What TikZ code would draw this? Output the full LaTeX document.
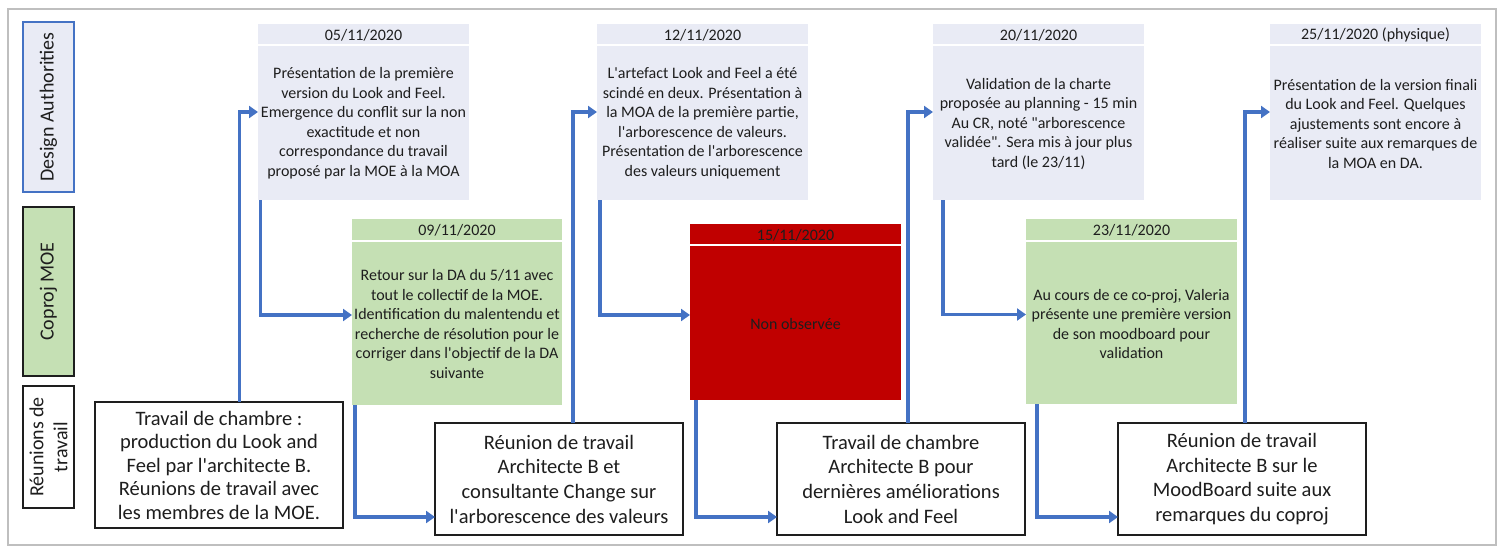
\documentclass[tikz,border=0pt]{standalone}
\usepackage{fontspec}
\setmainfont{Carlito}[Ligatures=TeXOff]
\usetikzlibrary{arrows.meta,calc}
\definecolor{dafill}{HTML}{E9EBF5}
\definecolor{grfill}{HTML}{C5E0B4}
\definecolor{redfill}{HTML}{C00000}
\definecolor{arrblue}{HTML}{4472C4}
\definecolor{txt}{HTML}{1E1E1E}
\definecolor{framec}{HTML}{BFBFBF}
\begin{document}
\begin{tikzpicture}[x=1pt,y=-1pt,
  panel/.style={rectangle,anchor=north west,inner sep=0pt,outer sep=0pt},
  dabox/.style={panel,fill=dafill,minimum width=211pt,minimum height=176pt},
  cobox/.style={panel,fill=grfill,minimum width=210pt,minimum height=186pt},
  rdbox/.style={panel,fill=redfill,minimum width=211pt,minimum height=176pt},
  wkbox/.style={panel,draw=txt,line width=1.4pt,fill=white,minimum width=248pt,minimum height=112pt},
  lblbox/.style={panel,line width=1.4pt,minimum width=51pt},
  sepline/.style={draw=white,line width=2pt},
  smalltxt/.style={font=\fontsize{16}{19.5}\selectfont,align=center,text=txt,inner sep=0pt},
  bigtxt/.style={font=\fontsize{20.5}{24.7}\selectfont,align=center,text=txt,inner sep=0pt},
  lbltxt/.style={font=\fontsize{20}{24}\selectfont,align=center,text=txt,inner sep=0pt,rotate=90},
  arr/.style={draw=arrblue,line width=3.5pt,-{Triangle[length=9pt,width=12pt]}}
]
\useasboundingbox (0,0) rectangle (1500,550);
\draw[framec,line width=2pt] (8,9) rectangle (1496,545);

% row labels
\node[lblbox,draw=arrblue,fill=dafill,minimum height=170pt] (lDA) at (23,22) {};
\node[lbltxt] (tDA) at (lDA.center) {Design Authorities};
\node[lblbox,draw=txt,fill=grfill,minimum height=169pt] (lCO) at (23,207) {};
\node[lbltxt] (tCO) at (lCO.center) {Coproj MOE};
\node[lblbox,draw=txt,fill=white,minimum height=122pt] (lRT) at (23,386) {};
\node[lbltxt] (tRT) at (lRT.center) {Réunions de\\travail};

% Design Authorities boxes
\node[dabox] (da1) at (258,24) {};
\node[dabox] (da2) at (597,24) {};
\node[dabox] (da3) at (933,24) {};
\node[dabox] (da4) at (1270,24) {};
\foreach \b in {da1,da2,da3,da4}{
  \draw[sepline] ($(\b.north west)+(0,21)$) -- ($(\b.north east)+(0,21)$);
}
\node[smalltxt] (h1) at ($(da1.north)+(0,11)$) {05/11/2020};
\node[smalltxt] (h2) at ($(da2.north)+(0,11)$) {12/11/2020};
\node[smalltxt] (h3) at ($(da3.north)+(0,11)$) {20/11/2020};
\node[smalltxt] (h4) at ($(da4.north)+(0,11)$) {25/11/2020 (physique)};
\node[smalltxt] (b1) at ($(da1.north)+(0,99)$) {Présentation de la première\\version du Look and Feel.\\Emergence du conflit sur la non\\exactitude et non\\correspondance du travail\\proposé par la MOE à la MOA};
\node[smalltxt] (b2) at ($(da2.north)+(0,99)$) {L'artefact Look and Feel a été\\scindé en deux. Présentation à\\la MOA de la première partie,\\l'arborescence de valeurs.\\Présentation de l'arborescence\\des valeurs uniquement};
\node[smalltxt] (b3) at ($(da3.north)+(0,100)$) {Validation de la charte\\proposée au planning - 15 min\\Au CR, noté "arborescence\\validée". Sera mis à jour plus\\tard (le 23/11)};
\node[smalltxt] (b4) at ($(da4.north)+(0,100)$) {Présentation de la version finali\\du Look and Feel. Quelques\\ajustements sont encore à\\réaliser suite aux remarques de\\la MOA en DA.};

% Coproj boxes
\node[cobox] (co1) at (352,219) {};
\node[rdbox] (rd) at (690,224) {};
\node[cobox,minimum width=211pt,minimum height=185pt] (co3) at (1026,219) {};
\draw[sepline] ($(co1.north west)+(0,22)$) -- ($(co1.north east)+(0,22)$);
\draw[sepline] ($(rd.north west)+(0,21)$) -- ($(rd.north east)+(0,21)$);
\draw[sepline] ($(co3.north west)+(0,22)$) -- ($(co3.north east)+(0,22)$);
\node[smalltxt] (hc1) at ($(co1.north)+(0,11)$) {09/11/2020};
\node[smalltxt] (hrd) at ($(rd.north)+(0,11)$) {15/11/2020};
\node[smalltxt] (hc3) at ($(co3.north)+(0,11)$) {23/11/2020};
\node[smalltxt] (bc1) at ($(co1.north)+(0,105)$) {Retour sur la DA du 5/11 avec\\tout le collectif de la MOE.\\Identification du malentendu et\\recherche de résolution pour le\\corriger dans l'objectif de la DA\\suivante};
\node[smalltxt] (brd) at ($(rd.north)+(0,100)$) {Non observée};
\node[smalltxt] (bc3) at ($(co3.north)+(0,105)$) {Au cours de ce co-proj, Valeria\\présente une première version\\de son moodboard pour\\validation};

% work boxes
\node[wkbox,minimum height=126pt] (A) at (95,402) {};
\node[wkbox] (B) at (435,423) {};
\node[wkbox] (C) at (777,423) {};
\node[wkbox] (D) at (1118,423) {};
\node[bigtxt,font=\fontsize{20.5}{23.5}\selectfont] (tA) at (A.center) {Travail de chambre :\\production du Look and\\Feel par l'architecte B.\\Réunions de travail avec\\les membres de la MOE.};
\node[bigtxt] (tB) at (B.center) {Réunion de travail\\Architecte B et\\consultante Change sur\\l'arborescence des valeurs};
\node[bigtxt] (tC) at (C.center) {Travail de chambre\\Architecte B pour\\dernières améliorations\\Look and Feel};
\node[bigtxt] (tD) at (D.center) {Réunion de travail\\Architecte B sur le\\MoodBoard suite aux\\remarques du coproj};

% connectors
\draw[arr] ([xshift=20.5pt]A.north) |- (da1.west);
\draw[arr] ([xshift=2.5pt]da1.south west) |- ([yshift=-3pt]co1.west);
\draw[arr] ([xshift=3pt]co1.south west) |- ([yshift=18pt]B.south west);
\draw[arr] ([xshift=14pt]B.north) |- (da2.west);
\draw[arr] ([xshift=3pt]da2.south west) |- ([yshift=-3pt]rd.west);
\draw[arr] ([xshift=6pt]rd.south west) |- ([yshift=18pt]C.south west);
\draw[arr] ([xshift=7pt]C.north) |- (da3.west);
\draw[arr] ([xshift=10pt]da3.south west) |- ([yshift=-3pt]co3.west);
\draw[arr] ([xshift=11pt]co3.south west) |- ([yshift=18pt]D.south west);
\draw[arr] ([xshift=3pt]D.north) |- (da4.west);
\end{tikzpicture}
\end{document}
